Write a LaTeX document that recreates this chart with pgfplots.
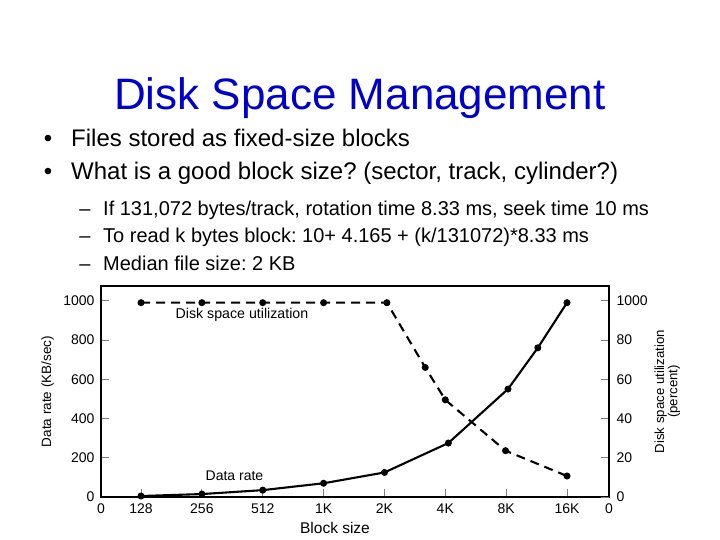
\documentclass[border=0pt]{standalone}
\usepackage{pgfplots}
\pgfplotsset{compat=1.18}
\usepackage{fontspec}
\setmainfont{Liberation Sans}
\definecolor{titleblue}{RGB}{0,0,204}
\newcommand{\fs}[1]{\fontsize{#1}{#1}\selectfont}
\frenchspacing

\begin{document}
\begin{tikzpicture}
\path[use as bounding box] (0pt,0pt) rectangle (720pt,-540pt);

% slide text
\node[anchor=base, text=titleblue, inner sep=0] at (360pt,-110pt) {\fs{44}Disk Space Management};
\node[anchor=base, inner sep=0] at (48pt,-147pt) {\fs{24}•};
\node[anchor=base west, inner sep=0] at (71pt,-147pt) {\fs{24}Files stored as fixed-size blocks};
\node[anchor=base, inner sep=0] at (48pt,-180pt) {\fs{24}•};
\node[anchor=base west, inner sep=0] at (71pt,-180pt) {\fs{24}What is a good block size? (sector, track, cylinder?)};
\node[anchor=base, inner sep=0] at (85pt,-215pt) {\fs{20}–};
\node[anchor=base west, inner sep=0] at (103pt,-215pt) {\fs{20}If 131,072 bytes/track, rotation time 8.33 ms, seek time 10 ms};
\node[anchor=base, inner sep=0] at (85pt,-243pt) {\fs{20}–};
\node[anchor=base west, inner sep=0] at (103pt,-243pt) {\fs{20}To read k bytes block: 10+ 4.165 + (k/131072)*8.33 ms};
\node[anchor=base, inner sep=0] at (85pt,-270pt) {\fs{20}–};
\node[anchor=base west, inner sep=0] at (103pt,-270pt) {\fs{20}Median file size: 2 KB};

% data rate, left axis
\begin{axis}[
    at={(101pt,-497pt)}, anchor=south west,
    width=508pt, height=211pt, scale only axis,
    xmin=0.342, xmax=8.69, ymin=0, ymax=1075,
    xtick={0.342,1,2,3,4,5,6,7,8,8.69},
    xticklabels={0,128,256,512,1K,2K,4K,8K,16K,0},
    ytick={0,200,400,600,800,1000},
    yticklabels={0,200,400,600,800,1000},
    tick pos=left, tick align=inside,
    major tick length=8pt,
    tick style={gray, line width=0.9pt},
    axis line style={line width=1.4pt},
    ticklabel style={font=\fs{14}},
    xticklabel style={yshift=-3pt},
    yticklabel style={xshift=-3pt},
    ylabel={Data rate (KB/sec)},
    ylabel style={font=\fs{13.5}, at={(axis description cs:-0.105,0.5)}, anchor=center},
    clip=false,
]
\addplot[black, line width=2.1pt, mark=*, mark size=2.4pt] coordinates {
    (1,5) (2,15) (3,35) (4,70) (5,125) (6.05,275) (7.03,550) (7.52,760) (8,990)
};
\end{axis}

% disk space utilization, right axis
\begin{axis}[
    at={(101pt,-497pt)}, anchor=south west,
    width=508pt, height=211pt, scale only axis,
    xmin=0.342, xmax=8.69, ymin=0, ymax=107.5,
    axis x line=none, axis y line*=right,
    ytick={0,20,40,60,80,100},
    yticklabels={0,20,40,60,80,1000},
    tick align=inside,
    major tick length=8pt,
    tick style={gray, line width=0.9pt},
    axis line style={line width=1.4pt},
    ticklabel style={font=\fs{14}},
    yticklabel style={xshift=4pt},
    ylabel={Disk space utilization\\(percent)},
    ylabel style={font=\fs{13.2}, align=center, at={(axis description cs:1.115,0.5)}, anchor=center},
    clip=false,
]
\addplot[black, line width=2.1pt, dash pattern=on 9pt off 6pt, mark=*, mark size=2.4pt, mark options={solid}] coordinates {
    (1,99) (2,99) (3,99) (4,99) (5.04,99) (5.67,66) (6,49.5) (6.99,23.6) (8,10.7)
};
\end{axis}

\node[font=\fs{14.2}] at (242pt,-315pt) {Disk space utilization};
\node[font=\fs{14}] at (234.5pt,-476pt) {Data rate};
\node[font=\fs{15.5}] at (335pt,-528pt) {Block size};
\end{tikzpicture}
\end{document}
